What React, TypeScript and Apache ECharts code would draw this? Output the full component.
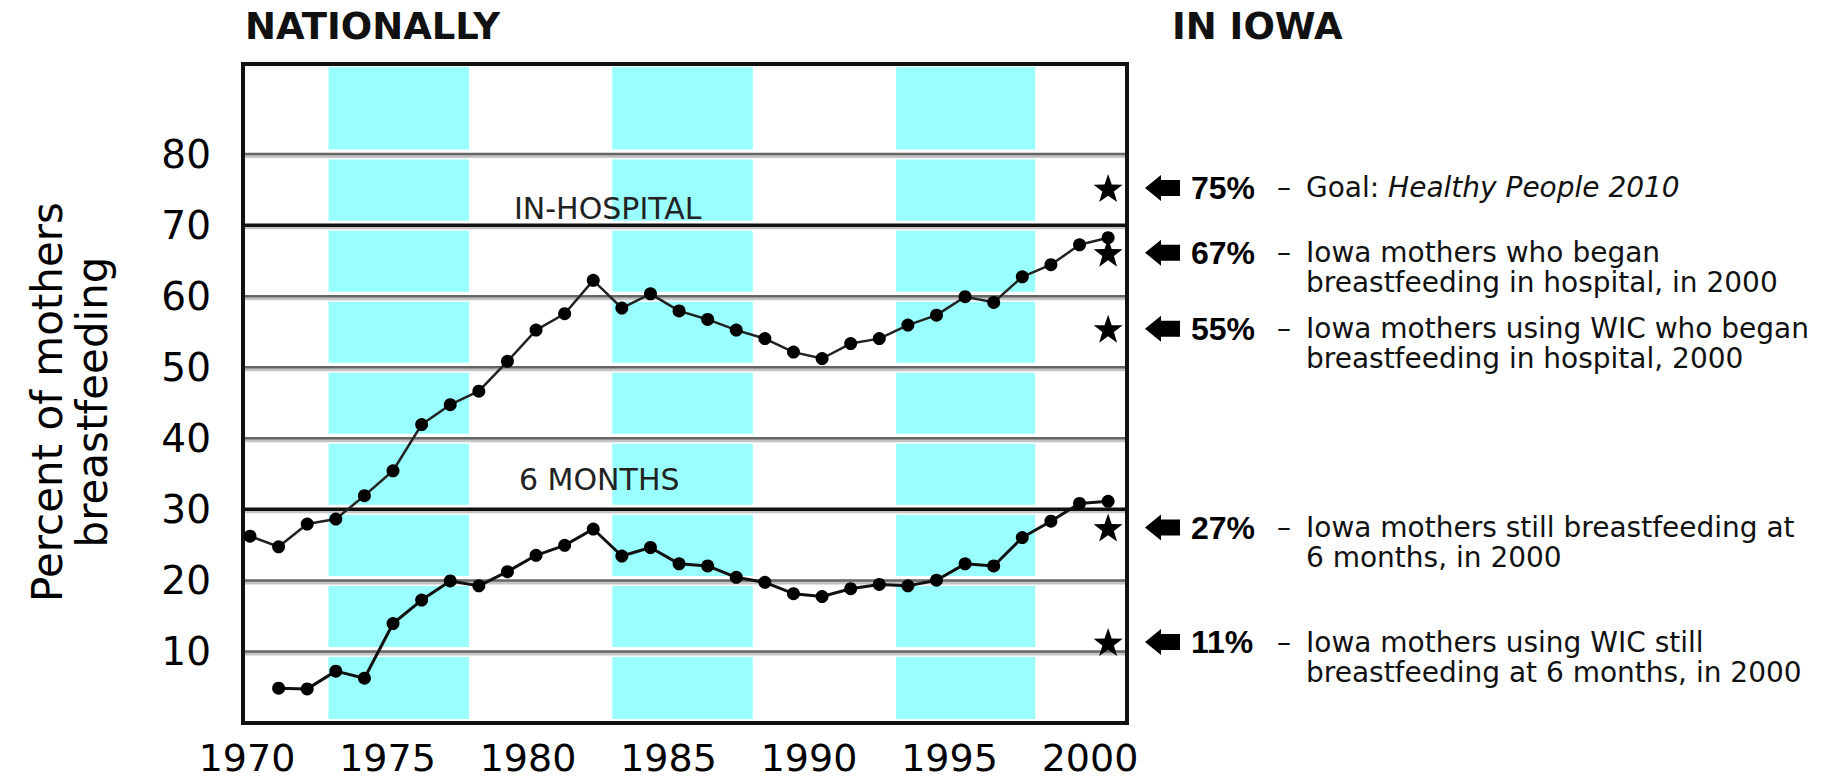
import React, { useEffect, useRef } from 'react';
import * as echarts from 'echarts';

// ---------- data ----------
const HOSPITAL_YEARS = [1970, 1971, 1972, 1973, 1974, 1975, 1976, 1977, 1978, 1979, 1980, 1981, 1982, 1983, 1984, 1985, 1986, 1987, 1988, 1989, 1990, 1991, 1992, 1993, 1994, 1995, 1996, 1997, 1998, 1999, 2000];
const HOSPITAL = [26.3, 24.8, 28.0, 28.7, 32.0, 35.5, 42.0, 44.8, 46.7, 50.9, 55.3, 57.6, 62.3, 58.4, 60.4, 58.0, 56.8, 55.3, 54.1, 52.2, 51.3, 53.4, 54.1, 56.0, 57.4, 60.0, 59.2, 62.8, 64.5, 67.3, 68.3];

const SIX_MONTH_YEARS = [1971, 1972, 1973, 1974, 1975, 1976, 1977, 1978, 1979, 1980, 1981, 1982, 1983, 1984, 1985, 1986, 1987, 1988, 1989, 1990, 1991, 1992, 1993, 1994, 1995, 1996, 1997, 1998, 1999, 2000];
const SIX_MONTHS = [4.9, 4.8, 7.3, 6.3, 14.0, 17.3, 20.0, 19.3, 21.3, 23.6, 25.0, 27.3, 23.5, 24.7, 22.4, 22.1, 20.5, 19.8, 18.2, 17.8, 18.9, 19.5, 19.3, 20.1, 22.4, 22.1, 26.1, 28.4, 30.9, 31.2];

const IOWA_YEAR = 2000;
// labelled Iowa percentages, and where their stars are plotted in the picture
const IOWA_VALUES = [75, 67, 55, 27, 11];
const IOWA_STAR_POS = [75.3, 66.2, 55.5, 27.5, 11.4];
const IOWA_DESCRIPTIONS = [
  ['{n|Goal: }{i|Healthy People 2010}'],
  ['Iowa mothers who began', 'breastfeeding in hospital, in 2000'],
  ['Iowa mothers using WIC who began', 'breastfeeding in hospital, 2000'],
  ['Iowa mothers still breastfeeding at', '6 months, in 2000'],
  ['Iowa mothers using WIC still', 'breastfeeding at 6 months, in 2000'],
];

const X_TICKS = [1970, 1975, 1980, 1985, 1990, 1995, 2000];
const Y_TICKS = [10, 20, 30, 40, 50, 60, 70, 80];
const HEAVY_LINES = [30, 70];
const BANDS = [
  [1972.9, 1977.9],
  [1983.0, 1988.0],
  [1993.1, 1998.05],
];

const SERIES_LABELS = ['IN-HOSPITAL', '6 MONTHS'];
const TITLE_LEFT = 'NATIONALLY';
const TITLE_RIGHT = 'IN IOWA';
const Y_NAME = 'Percent of mothers\nbreastfeeding';

// ---------- style ----------
const FONT = '"DejaVu Sans", sans-serif';
const BOLD_FONT = '"Liberation Sans", Arial, sans-serif';
const STAR_PATH =
  'path://M0,-10 L2.35,-3.24 L9.51,-3.09 L3.8,1.24 L5.88,8.09 L0,4 L-5.88,8.09 L-3.8,1.24 L-9.51,-3.09 L-2.35,-3.24 Z';

function buildOption() {
  const desc = { fontSize: 28, fontFamily: FONT, fill: '#111' };
  return {
    animation: false,
    backgroundColor: '#fff',
    grid: {
      left: 243,
      top: 64,
      width: 884,
      height: 659,
      show: true,
      borderColor: '#111',
      borderWidth: 4,
      backgroundColor: 'transparent',
    },
    xAxis: [
      { type: 'value', min: 1969.755, max: 2000.66, show: false },
      {
        type: 'value',
        min: 1969.858,
        max: 2001.317,
        position: 'bottom',
        axisLine: { show: false },
        axisTick: { show: false },
        splitLine: { show: false },
        axisLabel: {
          customValues: X_TICKS,
          formatter: (v: number) => String(v),
          fontSize: 38,
          lineHeight: 38,
          fontFamily: FONT,
          color: '#000',
          margin: 16,
        },
      },
    ],
    yAxis: {
      type: 'value',
      min: 0,
      max: 92.75,
      axisLine: { show: false },
      axisTick: { show: false },
      splitLine: { show: false },
      axisLabel: {
        customValues: Y_TICKS,
        formatter: (v: number) => String(v),
        fontSize: 39,
        fontFamily: FONT,
        color: '#000',
        margin: 32,
      },
    },
    graphic: [
      { type: 'text', x: 245, y: 26, style: { text: TITLE_LEFT, fontSize: 37, fontWeight: 'bold', fontFamily: FONT, fill: '#111', verticalAlign: 'middle' } },
      { type: 'text', x: 1172, y: 26, style: { text: TITLE_RIGHT, fontSize: 37, fontWeight: 'bold', fontFamily: FONT, fill: '#111', verticalAlign: 'middle' } },
      { type: 'text', x: 514, y: 208, z: 10, style: { text: SERIES_LABELS[0], fontSize: 30, fontFamily: FONT, fill: '#222', verticalAlign: 'middle' } },
      { type: 'text', x: 519, y: 479, z: 10, style: { text: SERIES_LABELS[1], fontSize: 30, fontFamily: FONT, fill: '#222', verticalAlign: 'middle' } },
      {
        type: 'text',
        x: 70,
        y: 402,
        rotation: Math.PI / 2,
        style: { text: Y_NAME, fontSize: 42, lineHeight: 45, fontFamily: FONT, fill: '#000', align: 'center', verticalAlign: 'middle' },
      },
    ],
    series: [
      // shaded 5-year bands
      {
        type: 'custom',
        xAxisIndex: 1,
        yAxisIndex: 0,
        z: 1,
        silent: true,
        data: BANDS,
        renderItem: (params: any, api: any) => {
          const cs = params.coordSys;
          const x0 = api.coord([api.value(0), 0])[0];
          const x1 = api.coord([api.value(1), 0])[0];
          return {
            type: 'rect',
            shape: { x: x0, y: cs.y + 3, width: x1 - x0, height: cs.height - 7 },
            style: { fill: '#99ffff' },
          };
        },
      },
      // horizontal grid lines
      {
        type: 'custom',
        xAxisIndex: 0,
        yAxisIndex: 0,
        z: 2,
        silent: true,
        data: Y_TICKS.map((v) => [HOSPITAL_YEARS[0], v]),
        renderItem: (params: any, api: any) => {
          const cs = params.coordSys;
          const v = api.value(1);
          const y = api.coord([api.value(0), v])[1];
          const heavy = HEAVY_LINES.indexOf(v) >= 0;
          const xa = cs.x + 2;
          const xb = cs.x + cs.width - 2;
          return {
            type: 'group',
            children: [
              { type: 'line', shape: { x1: xa, y1: y, x2: xb, y2: y }, style: { stroke: '#ffffff', lineWidth: 10 } },
              { type: 'line', shape: { x1: xa, y1: y + 1.5, x2: xb, y2: y + 1.5 }, style: { stroke: '#c4c4c4', lineWidth: 4 } },
              { type: 'line', shape: { x1: xa, y1: y - 0.5, x2: xb, y2: y - 0.5 }, style: { stroke: heavy ? '#111' : '#666', lineWidth: heavy ? 3.5 : 2.5 } },
            ],
          };
        },
      },
      {
        name: SERIES_LABELS[0],
        type: 'line',
        xAxisIndex: 0,
        yAxisIndex: 0,
        z: 3,
        silent: true,
        data: HOSPITAL_YEARS.map((yr, i) => [yr, HOSPITAL[i]]),
        symbol: 'circle',
        symbolSize: 13,
        itemStyle: { color: '#000' },
        lineStyle: { color: '#222', width: 2.5 },
      },
      {
        name: SERIES_LABELS[1],
        type: 'line',
        xAxisIndex: 0,
        yAxisIndex: 0,
        z: 3,
        silent: true,
        data: SIX_MONTH_YEARS.map((yr, i) => [yr, SIX_MONTHS[i]]),
        symbol: 'circle',
        symbolSize: 13,
        itemStyle: { color: '#000' },
        lineStyle: { color: '#111', width: 3 },
      },
      // Iowa stars
      {
        type: 'scatter',
        xAxisIndex: 0,
        yAxisIndex: 0,
        z: 4,
        silent: true,
        data: IOWA_STAR_POS.map((v) => [IOWA_YEAR, v]),
        symbol: STAR_PATH,
        symbolSize: [29, 28],
        itemStyle: { color: '#000', opacity: 1 },
      },
      // arrows + annotations
      {
        type: 'custom',
        xAxisIndex: 0,
        yAxisIndex: 0,
        z: 4,
        silent: true,
        clip: false,
        data: IOWA_STAR_POS.map((v) => [IOWA_YEAR, v]),
        renderItem: (params: any, api: any) => {
          const cs = params.coordSys;
          const idx = params.dataIndex;
          const y = api.coord([api.value(0), api.value(1)])[1];
          const r = cs.x + cs.width;
          const ax = r + 18;
          const children: any[] = [
            {
              type: 'polygon',
              shape: {
                points: [
                  [ax, y],
                  [ax + 16, y - 13],
                  [ax + 16, y - 8],
                  [ax + 35, y - 8],
                  [ax + 35, y + 8],
                  [ax + 16, y + 8],
                  [ax + 16, y + 13],
                ],
              },
              style: { fill: '#000' },
            },
            {
              type: 'text',
              x: r + 64,
              y: y,
              style: { text: IOWA_VALUES[idx] + '%', fontSize: 32, fontWeight: 'bold', fontFamily: BOLD_FONT, fill: '#000', verticalAlign: 'middle' },
            },
            {
              type: 'text',
              x: r + 157,
              y: y,
              style: { text: '–', fontSize: 28, fontFamily: FONT, fill: '#111', align: 'center', verticalAlign: 'middle' },
            },
          ];
          const lines = IOWA_DESCRIPTIONS[idx];
          lines.forEach((line, li) => {
            children.push({
              type: 'text',
              x: r + 179,
              y: y + li * 30,
              style: {
                text: line,
                ...desc,
                verticalAlign: 'middle',
                rich: {
                  n: { fontSize: 28, fontFamily: FONT, fill: '#111' },
                  i: { fontSize: 28, fontFamily: FONT, fontStyle: 'italic', fill: '#111' },
                },
              },
            });
          });
          return { type: 'group', children };
        },
      },
    ],
  };
}

export default function App() {
  const ref = useRef<HTMLDivElement>(null);
  useEffect(() => {
    if (!ref.current) return;
    const chart = echarts.init(ref.current, null, { renderer: 'svg' });
    chart.setOption(buildOption() as any);
    return () => chart.dispose();
  }, []);
  return (
    <div
      ref={ref}
      style={{ position: 'absolute', left: 0, top: 0, width: 1832, height: 784, background: '#fff' }}
    />
  );
}
